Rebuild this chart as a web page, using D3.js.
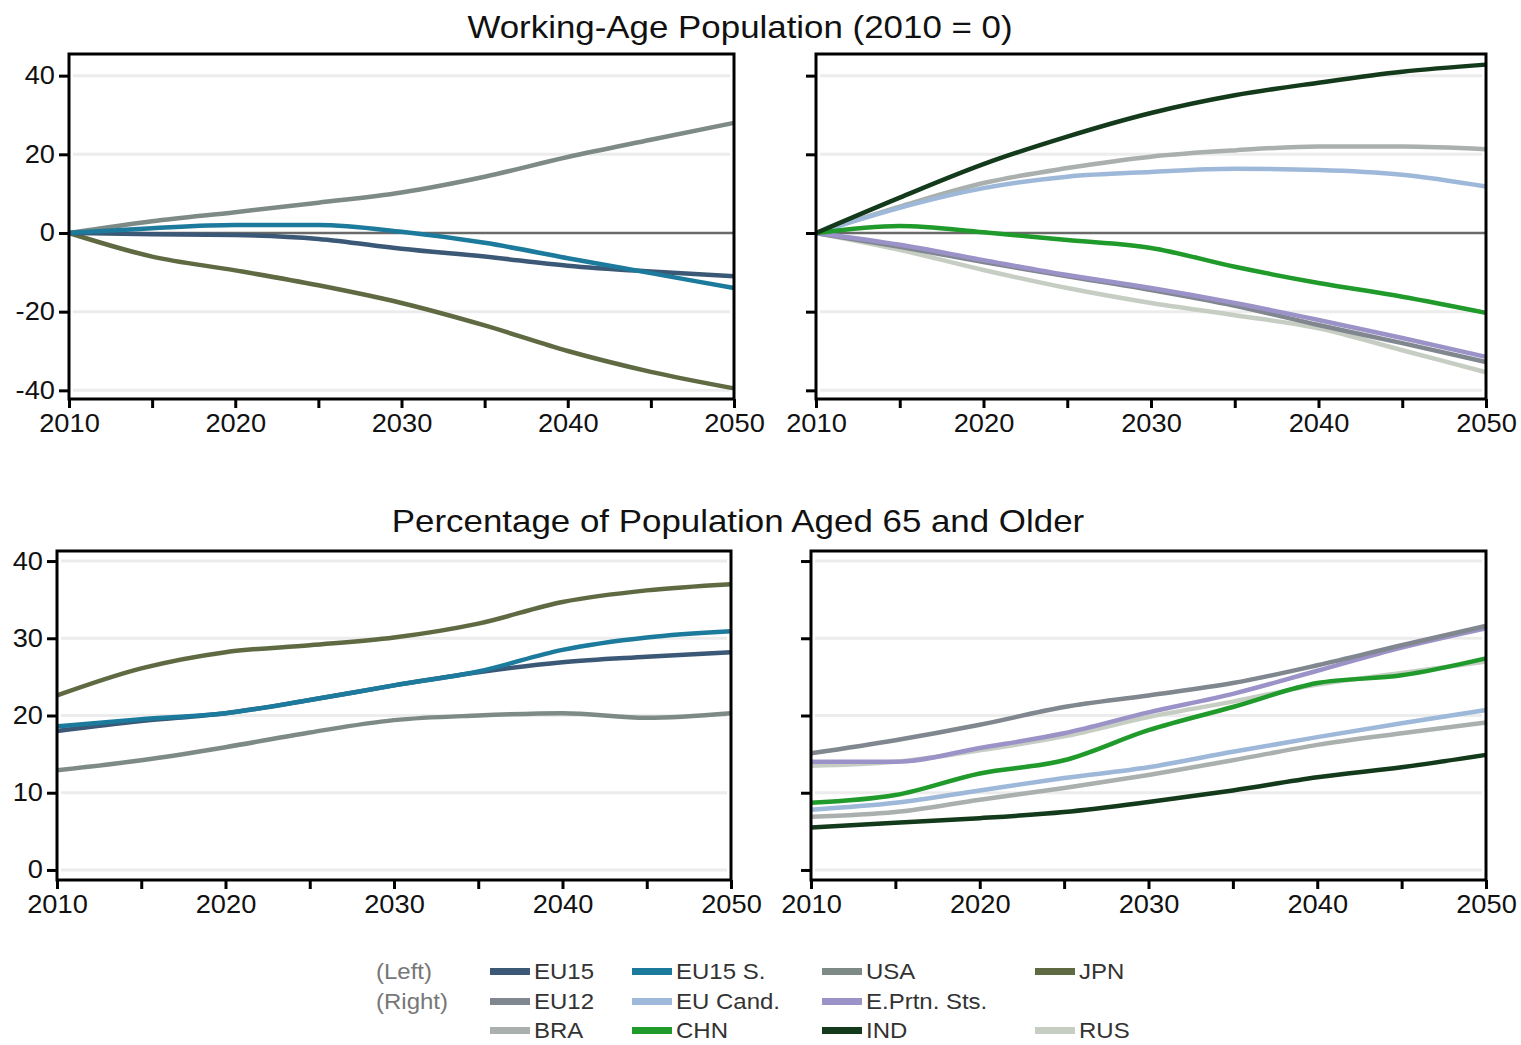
<!DOCTYPE html>
<html>
<head>
    <meta charset="utf-8">
    <script src="https://d3js.org/d3.v7.min.js"></script>
    <style>
        body { margin: 0; background: #fff; }
        svg text { font-family: "Liberation Sans", Arial, sans-serif; }
    </style>
</head>
<body>
<div id="chart"></div>
<script>
    // years on the x axis (5-year steps)
    const years = [2010, 2015, 2020, 2025, 2030, 2035, 2040, 2045, 2050];

    // Working-age population, change since 2010 (%) - left panel
    const wapEU15  = [0, -0.3, -0.5, -1.5, -4, -6, -8.3, -9.8, -11];
    const wapEU15S = [0, 1.2, 2, 2, 0.3, -2.5, -6.4, -10.2, -14];
    const wapUSA   = [0, 3, 5.3, 7.7, 10.3, 14.3, 19.3, 23.7, 28];
    const wapJPN   = [0, -6, -9.5, -13.3, -17.8, -23.5, -30, -35.3, -39.5];
    // right panel
    const wapEU12  = [0, -3.5, -7.4, -11, -14.5, -18.5, -23.4, -28, -32.8];
    const wapEUCand = [0, 6.4, 11.4, 14.3, 15.5, 16.3, 16, 14.8, 11.8];
    const wapEPrtn = [0, -3, -6.9, -10.7, -14, -17.8, -22.1, -26.7, -31.5];
    const wapBRA   = [0, 6.7, 12.7, 16.5, 19.4, 21, 22, 22, 21.3];
    const wapCHN   = [0, 1.8, 0.2, -1.8, -3.8, -8.6, -12.7, -16.2, -20.3];
    const wapIND   = [0, 9, 17.5, 24.5, 30.5, 35, 38.2, 41, 42.8];
    const wapRUS   = [0, -4.3, -9.4, -14, -17.8, -20.9, -24.2, -29.8, -35.4];

    // Population aged 65+ (% of total) - left panel
    const oldEU15  = [18, 19.3, 20.3, 22, 23.9, 25.6, 26.9, 27.6, 28.2];
    const oldEU15S = [18.6, 19.5, 20.3, 22, 23.9, 25.7, 28.5, 30.1, 30.9];
    const oldUSA   = [12.9, 14.2, 15.9, 17.8, 19.4, 20, 20.3, 19.7, 20.3];
    const oldJPN   = [22.6, 26.1, 28.2, 29.1, 30.1, 31.9, 34.7, 36.2, 37];
    // right panel
    const oldEU12  = [15.1, 16.8, 18.8, 21.1, 22.6, 24.2, 26.5, 29.1, 31.6];
    const oldEUCand = [7.8, 8.7, 10.3, 11.9, 13.3, 15.3, 17.2, 19, 20.7];
    const oldEPrtn = [14, 14, 15.8, 17.7, 20.4, 22.8, 25.8, 28.8, 31.3];
    const oldBRA   = [6.9, 7.5, 9.1, 10.6, 12.3, 14.2, 16.2, 17.7, 19.1];
    const oldCHN   = [8.7, 9.7, 12.5, 14.2, 18.1, 21.1, 24.2, 25.2, 27.4];
    const oldIND   = [5.5, 6.1, 6.7, 7.5, 8.8, 10.3, 12, 13.3, 14.9];
    const oldRUS   = [13.5, 14, 15.5, 17.3, 19.8, 21.8, 24, 25.5, 27];

    // tick values
    const xTicks = [2010, 2015, 2020, 2025, 2030, 2035, 2040, 2045, 2050];
    const wapTicks = [-40, -20, 0, 20, 40];
    const oldTicks = [0, 10, 20, 30, 40];

    const colors = {
        "EU15": "#3b5876", "EU15 S.": "#1c7a9c", "USA": "#7e8a86", "JPN": "#5f6a42",
        "EU12": "#80878f", "EU Cand.": "#9db8d8", "E.Prtn. Sts.": "#9b92c8",
        "BRA": "#aab0ad", "CHN": "#1f9a2b", "IND": "#133a1b", "RUS": "#c6cec4"
    };

    const svg = d3.select("#chart").append("svg")
        .attr("width", 1521).attr("height", 1045);

    const stretch = 1.09;
    function widen(sel) {
        sel.each(function () {
            const len = this.getComputedTextLength();
            d3.select(this).attr("textLength", len * stretch).attr("lengthAdjust", "spacingAndGlyphs");
        });
    }

    function panel(box, yDomain, yTicks, showY, series, zeroLine) {
        const x = d3.scaleLinear().domain([2010, 2050]).range([box.x0, box.x1]);
        const y = d3.scaleLinear().domain(yDomain).range([box.y1, box.y0]);
        const g = svg.append("g");

        // grid
        g.selectAll(".grid").data(yTicks.filter(v => !(zeroLine && v === 0)))
            .join("line")
            .attr("x1", box.x0 + 4).attr("x2", box.x1 - 4)
            .attr("y1", d => y(d)).attr("y2", d => y(d))
            .attr("stroke", "#ececec").attr("stroke-width", 3);

        if (zeroLine) {
            g.append("line")
                .attr("x1", box.x0).attr("x2", box.x1)
                .attr("y1", y(0)).attr("y2", y(0))
                .attr("stroke", "#6a6a6a").attr("stroke-width", 2.5);
        }

        const line = d3.line()
            .x((d, i) => x(years[i]))
            .y(d => y(d))
            .curve(d3.curveMonotoneX);

        g.selectAll(".series").data(series)
            .join("path")
            .attr("fill", "none")
            .attr("stroke", d => colors[d.name])
            .attr("stroke-width", 4.5)
            .attr("stroke-linejoin", "round")
            .attr("d", d => line(d.values));

        // axes
        const xAxis = g.append("g")
            .attr("transform", `translate(0,${box.y1})`)
            .call(d3.axisBottom(x).tickValues(xTicks)
                .tickFormat(d => d % 10 === 0 ? d : "")
                .tickSize(9).tickPadding(6));
        const yAxis = g.append("g")
            .attr("transform", `translate(${box.x0},0)`)
            .call(d3.axisLeft(y).tickValues(yTicks)
                .tickFormat(d => showY ? d : "")
                .tickSize(10).tickPadding(4));

        [xAxis, yAxis].forEach(a => {
            a.select(".domain").remove();
            a.selectAll(".tick line").attr("stroke", "#000").attr("stroke-width", 3);
            a.selectAll(".tick text").attr("fill", "#111").attr("font-size", 25)
                .style("font-family", "'Liberation Sans', Arial, sans-serif");
        });
        widen(xAxis.selectAll(".tick text"));
        widen(yAxis.selectAll(".tick text"));

        // frame
        g.append("rect")
            .attr("x", box.x0).attr("y", box.y0)
            .attr("width", box.x1 - box.x0).attr("height", box.y1 - box.y0)
            .attr("fill", "none").attr("stroke", "#000").attr("stroke-width", 3);
    }

    const wapDomain = [-42.2, 45.5];
    const oldDomain = [-1.3, 41.3];

    panel({ x0: 69, x1: 734, y0: 54, y1: 399 }, wapDomain, wapTicks, true, [
        { name: "USA", values: wapUSA },
        { name: "JPN", values: wapJPN },
        { name: "EU15", values: wapEU15 },
        { name: "EU15 S.", values: wapEU15S }
    ], true);

    panel({ x0: 816, x1: 1486, y0: 54, y1: 399 }, wapDomain, wapTicks, false, [
        { name: "RUS", values: wapRUS },
        { name: "EU12", values: wapEU12 },
        { name: "E.Prtn. Sts.", values: wapEPrtn },
        { name: "BRA", values: wapBRA },
        { name: "EU Cand.", values: wapEUCand },
        { name: "CHN", values: wapCHN },
        { name: "IND", values: wapIND }
    ], true);

    panel({ x0: 57, x1: 731, y0: 551, y1: 880 }, oldDomain, oldTicks, true, [
        { name: "USA", values: oldUSA },
        { name: "JPN", values: oldJPN },
        { name: "EU15", values: oldEU15 },
        { name: "EU15 S.", values: oldEU15S }
    ], false);

    panel({ x0: 811, x1: 1486, y0: 551, y1: 880 }, oldDomain, oldTicks, false, [
        { name: "RUS", values: oldRUS },
        { name: "E.Prtn. Sts.", values: oldEPrtn },
        { name: "EU12", values: oldEU12 },
        { name: "BRA", values: oldBRA },
        { name: "EU Cand.", values: oldEUCand },
        { name: "CHN", values: oldCHN },
        { name: "IND", values: oldIND }
    ], false);

    // titles
    svg.append("text").attr("x", 740).attr("y", 38)
        .attr("text-anchor", "middle").attr("font-size", 32).attr("fill", "#111")
        .text("Working-Age Population (2010 = 0)").call(widen);
    svg.append("text").attr("x", 738).attr("y", 532)
        .attr("text-anchor", "middle").attr("font-size", 32).attr("fill", "#111")
        .text("Percentage of Population Aged 65 and Older").call(widen);

    // legend
    const legendRows = [
        { label: "(Left)", items: ["EU15", "EU15 S.", "USA", "JPN"] },
        { label: "(Right)", items: ["EU12", "EU Cand.", "E.Prtn. Sts."] },
        { label: "", items: ["BRA", "CHN", "IND", "RUS"] }
    ];
    const colX = [490, 632, 822, 1035];
    const rowY = [979, 1009, 1038];
    const legend = svg.append("g");
    legendRows.forEach((row, r) => {
        legend.append("text").attr("x", 376).attr("y", rowY[r])
            .attr("font-size", 22).attr("fill", "#777").text(row.label).call(widen);
        row.items.forEach((name, c) => {
            legend.append("rect")
                .attr("x", colX[c]).attr("y", rowY[r] - 11)
                .attr("width", 40).attr("height", 7)
                .attr("fill", colors[name]);
            legend.append("text").attr("x", colX[c] + 44).attr("y", rowY[r])
                .attr("font-size", 22).attr("fill", "#333").text(name).call(widen);
        });
    });
</script>
</body>
</html>
